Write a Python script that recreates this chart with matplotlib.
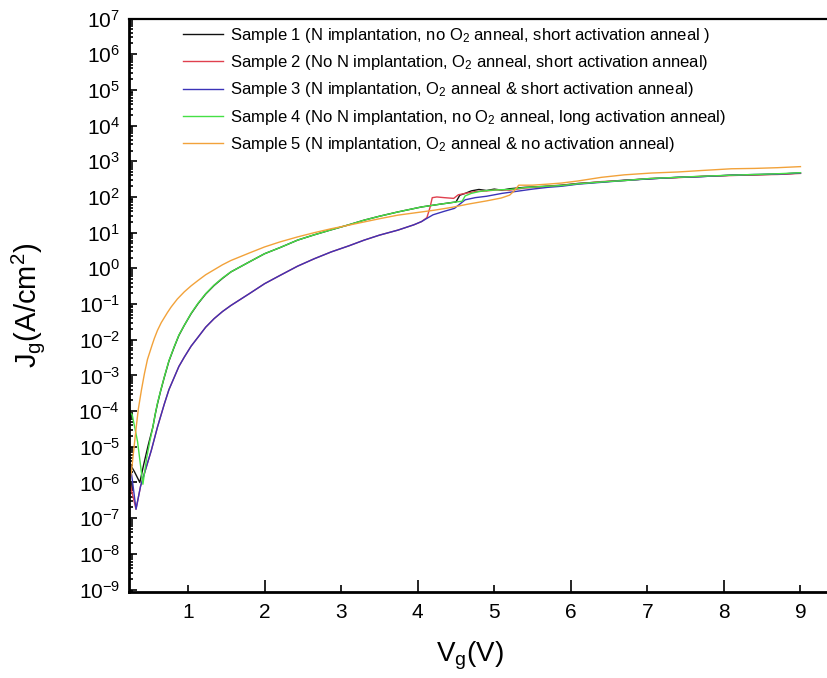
import numpy as np
from matplotlib import pyplot as plt
from matplotlib import ticker

plt.rcParams['font.family'] = ['Liberation Sans', 'DejaVu Sans']
plt.rcParams['mathtext.fontset'] = 'custom'
plt.rcParams['mathtext.rm'] = 'Liberation Sans'
plt.rcParams['mathtext.it'] = 'Liberation Sans:italic'
plt.rcParams['mathtext.bf'] = 'Liberation Sans:bold'

# gate voltage (V) and log10 of gate current density (A/cm^2) per sample
v_s1 = [0.22, 0.30, 0.37, 0.42, 0.48, 0.54, 0.57, 0.60, 0.64, 0.69, 0.75, 0.82, 0.88, 0.95, 1.04,
        1.13, 1.23, 1.34, 1.45, 1.56, 1.80, 2.00, 2.20, 2.43, 2.65, 2.87, 3.10, 3.30, 3.50,
        3.74, 4.05, 4.30, 4.50, 4.55, 4.62, 4.70, 4.80, 4.90, 5.00, 5.10, 5.20, 5.40, 5.60,
        5.88, 6.10, 6.40, 6.70, 7.05, 7.40, 7.70, 8.10, 8.40, 8.70, 9.00]
log_s1 = [-5.4, -5.7, -6.0, -5.5, -4.95, -4.45, -4.1, -3.8, -3.45, -3.05, -2.6, -2.2, -1.88, -1.6, -1.27,
          -0.99, -0.72, -0.48, -0.28, -0.1, 0.18, 0.41, 0.58, 0.79, 0.94, 1.08, 1.22, 1.35, 1.46,
          1.58, 1.72, 1.80, 1.86, 2.05, 2.10, 2.17, 2.21, 2.18, 2.22, 2.19, 2.23, 2.27, 2.29,
          2.33, 2.38, 2.42, 2.47, 2.51, 2.55, 2.57, 2.61, 2.62, 2.64, 2.67]

v_s2 = [0.22, 0.27, 0.32, 0.38, 0.45, 0.52, 0.60, 0.69, 0.75, 0.82, 0.88, 0.95, 1.04, 1.13, 1.23,
        1.34, 1.45, 1.56, 1.80, 2.00, 2.20, 2.43, 2.65, 2.87, 3.10, 3.30, 3.50, 3.74, 3.95,
        4.05, 4.12, 4.16, 4.19, 4.25, 4.35, 4.47, 4.53, 4.62, 4.75, 4.90, 5.05, 5.20, 5.40,
        5.60, 5.88, 6.10, 6.40, 6.70, 7.05, 7.40, 7.70, 8.10, 8.40, 8.70, 9.00]
log_s2 = [-5.8, -6.3, -6.75, -6.1, -5.6, -5.1, -4.45, -3.8, -3.4, -3.05, -2.75, -2.49, -2.18, -1.93, -1.65,
          -1.41, -1.21, -1.04, -0.71, -0.43, -0.2, 0.06, 0.27, 0.46, 0.63, 0.79, 0.93, 1.07, 1.22,
          1.31, 1.42, 1.70, 1.98, 2.00, 1.98, 1.96, 2.06, 2.10, 2.15, 2.17, 2.20, 2.19, 2.25,
          2.28, 2.32, 2.37, 2.43, 2.46, 2.52, 2.54, 2.58, 2.60, 2.62, 2.63, 2.66]

v_s3 = [0.22, 0.27, 0.32, 0.38, 0.45, 0.52, 0.60, 0.69, 0.75, 0.82, 0.88, 0.95, 1.04, 1.13, 1.23,
        1.34, 1.45, 1.56, 1.80, 2.00, 2.20, 2.43, 2.65, 2.87, 3.10, 3.30, 3.50, 3.74, 3.95,
        4.05, 4.12, 4.20, 4.35, 4.48, 4.55, 4.62, 4.75, 4.90, 5.10, 5.30, 5.50, 5.70, 5.88,
        6.10, 6.40, 6.70, 7.05, 7.40, 7.70, 8.10, 8.40, 8.70, 9.00]
log_s3 = [-5.1, -5.9, -6.75, -6.1, -5.6, -5.1, -4.45, -3.8, -3.4, -3.05, -2.75, -2.49, -2.18, -1.93, -1.65,
          -1.41, -1.21, -1.04, -0.71, -0.43, -0.2, 0.06, 0.27, 0.46, 0.63, 0.79, 0.93, 1.07, 1.22,
          1.31, 1.40, 1.50, 1.60, 1.68, 1.80, 1.92, 1.98, 2.02, 2.10, 2.16, 2.22, 2.27, 2.30,
          2.36, 2.41, 2.46, 2.51, 2.55, 2.57, 2.61, 2.63, 2.64, 2.67]

v_s4 = [0.22, 0.27, 0.34, 0.41, 0.46, 0.50, 0.54, 0.57, 0.60, 0.64, 0.69, 0.75, 0.82, 0.88, 0.95,
        1.04, 1.13, 1.23, 1.34, 1.45, 1.56, 1.80, 2.00, 2.20, 2.43, 2.65, 2.87, 3.10, 3.30,
        3.50, 3.74, 4.05, 4.30, 4.50, 4.58, 4.62, 4.70, 4.80, 4.90, 5.05, 5.20, 5.40, 5.60,
        5.88, 6.10, 6.40, 6.70, 7.05, 7.40, 7.70, 8.10, 8.40, 8.70, 9.00]
log_s4 = [-4.0, -4.1, -4.85, -6.05, -5.3, -4.85, -4.45, -4.1, -3.78, -3.44, -3.04, -2.59, -2.19, -1.87, -1.6,
          -1.26, -0.98, -0.71, -0.47, -0.27, -0.1, 0.18, 0.41, 0.58, 0.79, 0.94, 1.08, 1.22, 1.35,
          1.46, 1.58, 1.72, 1.80, 1.86, 1.88, 2.03, 2.10, 2.15, 2.18, 2.20, 2.21, 2.26, 2.29,
          2.32, 2.37, 2.42, 2.46, 2.52, 2.55, 2.58, 2.61, 2.63, 2.65, 2.68]

v_s5 = [0.22, 0.26, 0.29, 0.32, 0.35, 0.39, 0.43, 0.47, 0.53, 0.56, 0.60, 0.65, 0.69, 0.73, 0.78,
        0.86, 0.95, 1.04, 1.13, 1.23, 1.34, 1.45, 1.56, 1.80, 2.00, 2.20, 2.43, 2.65, 2.87,
        3.10, 3.30, 3.50, 3.74, 4.05, 4.22, 4.45, 4.66, 4.90, 5.09, 5.20, 5.26, 5.32, 5.50,
        5.70, 5.88, 6.10, 6.40, 6.70, 7.05, 7.40, 7.70, 8.10, 8.40, 8.70, 9.00]
log_s5 = [-6.2, -5.7, -5.1, -4.5, -3.95, -3.42, -2.95, -2.55, -2.15, -1.96, -1.74, -1.52, -1.38, -1.24, -1.08,
          -0.86, -0.66, -0.49, -0.34, -0.18, -0.04, 0.1, 0.22, 0.43, 0.60, 0.74, 0.88, 1.00, 1.11,
          1.21, 1.30, 1.39, 1.49, 1.58, 1.63, 1.71, 1.80, 1.89, 1.97, 2.05, 2.17, 2.33, 2.33,
          2.36, 2.39, 2.45, 2.55, 2.62, 2.67, 2.70, 2.74, 2.79, 2.80, 2.82, 2.85]

labels = [
    "Sample 1 (N implantation, no O$_2$ anneal, short activation anneal )",
    "Sample 2 (No N implantation, O$_2$ anneal, short activation anneal)",
    "Sample 3 (N implantation, O$_2$ anneal & short activation anneal)",
    "Sample 4 (No N implantation, no O$_2$ anneal, long activation anneal)",
    "Sample 5 (N implantation, O$_2$ anneal & no activation anneal)",
]
colors = ['#111111', '#e0404e', '#3b33b8', '#45e045', '#f2a23a']

fig = plt.figure(figsize=(8.28, 6.78), dpi=100)
ax = fig.add_axes([0.1552, 0.1273, 0.8448, 0.8454])

series = [(v_s1, log_s1), (v_s2, log_s2), (v_s3, log_s3), (v_s4, log_s4), (v_s5, log_s5)]
for (v, lg), lab, c in zip(series, labels, colors):
    ax.plot(v, 10 ** np.array(lg), color=c, lw=1.0, label=lab)

ax.set_yscale('log')
ax.set_xlim(0.222, 9.36)
ax.set_ylim(10 ** -9.06, 1e7)

ax.yaxis.set_major_locator(ticker.LogLocator(base=10, numticks=30))
ax.yaxis.set_minor_locator(ticker.LogLocator(base=10, subs=np.arange(2, 10), numticks=30))
ax.yaxis.set_major_formatter(ticker.LogFormatterMathtext())
ax.yaxis.set_minor_formatter(ticker.NullFormatter())

# long ticks at even volts, short at odd ones, every integer labelled
ax.xaxis.set_major_locator(ticker.FixedLocator([2, 4, 6, 8]))
ax.xaxis.set_minor_locator(ticker.FixedLocator([1, 3, 5, 7, 9]))
ax.xaxis.set_major_formatter(ticker.FormatStrFormatter('%d'))
ax.xaxis.set_minor_formatter(ticker.FormatStrFormatter('%d'))

ax.tick_params(axis='both', which='both', direction='in', labelsize=15, width=1.2)
ax.tick_params(axis='y', which='major', length=6, pad=6)
ax.tick_params(axis='y', which='minor', length=3)
ax.tick_params(axis='x', which='major', length=9, pad=8)
ax.tick_params(axis='x', which='minor', length=5, pad=8)

ax.spines['right'].set_visible(False)
ax.spines['left'].set_linewidth(2.0)
ax.spines['bottom'].set_linewidth(2.0)
ax.spines['top'].set_linewidth(1.6)

ax.set_xlabel(r"V$_\mathrm{g}$(V)", fontsize=20)
ax.set_ylabel(r"J$_\mathrm{g}$(A/cm$^2$)", fontsize=21)
ax.xaxis.set_label_coords(0.488, -0.084)
ax.yaxis.set_label_coords(-0.117, 0.5)

ax.legend(loc='upper left', bbox_to_anchor=(0.221, 0.962), bbox_transform=fig.transFigure,
          frameon=False, fontsize=12, handlelength=2.4, handletextpad=0.4,
          labelspacing=0.5, borderpad=0, borderaxespad=0)

fig.savefig('out.png', dpi=100)
